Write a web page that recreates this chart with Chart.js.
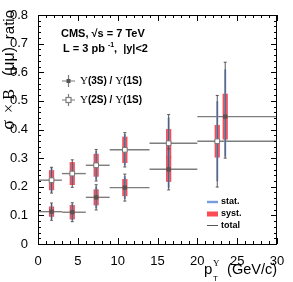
<!DOCTYPE html>
<html>
<head>
<meta charset="utf-8">
<script src="https://cdn.jsdelivr.net/npm/chart.js@4.4.0/dist/chart.umd.min.js"></script>
<style>
  html, body { margin: 0; padding: 0; background: #fff; }
</style>
</head>
<body>
<canvas id="chart" width="293" height="282"></canvas>
<script>
// Intervalos de pT (GeV/c)
const binLo = [0, 3, 6, 9, 14, 20];
const binHi = [3, 6, 9, 14, 20, 30];

// Y(3S)/Y(1S)
const x3S = [1.7, 4.3, 7.3, 10.9, 16.4, 23.5];
const r3S = [0.113, 0.111, 0.163, 0.197, 0.261, 0.445];
const statLo3S = [0.025, 0.028, 0.038, 0.040, 0.065, 0.140];
const statHi3S = [0.025, 0.028, 0.038, 0.040, 0.065, 0.165];
const sist3S = [0.018, 0.025, 0.028, 0.030, 0.044, 0.080];
const totLo3S = [0.030, 0.033, 0.044, 0.047, 0.072, 0.145];
const totHi3S = [0.030, 0.033, 0.044, 0.047, 0.072, 0.190];

// Y(2S)/Y(1S)
const x2S = [1.7, 4.3, 7.3, 10.9, 16.4, 22.5];
const r2S = [0.223, 0.246, 0.275, 0.329, 0.352, 0.359];
const stat2S = [0.042, 0.035, 0.050, 0.055, 0.090, 0.140];
const sist2S = [0.035, 0.040, 0.040, 0.046, 0.050, 0.057];
const tot2S = [0.045, 0.048, 0.055, 0.060, 0.100, 0.160];

const AZUL = 'rgb(120,155,220)';
const ROJO = 'rgba(250,30,40,0.8)';
const GRIS = 'rgb(85,85,85)';

// Barras horizontales de los intervalos
function dibujarIntervalos(ctx, xs, ys, ys_val) {
    ctx.strokeStyle = 'rgb(125,125,125)';
    ctx.lineWidth = 1.4;
    for (let i = 0; i < ys_val.length; i++) {
        const y = ys.getPixelForValue(ys_val[i]);
        ctx.beginPath();
        ctx.moveTo(xs.getPixelForValue(binLo[i]), y);
        ctx.lineTo(xs.getPixelForValue(binHi[i]), y);
        ctx.stroke();
    }
}

// Barras verticales: syst. (rojo), stat. (azul), total (gris)
function dibujarErrores(ctx, xs, ys, xv, rv, sLo, sHi, sist, tLo, tHi) {
    for (let i = 0; i < xv.length; i++) {
        const x = xs.getPixelForValue(xv[i]);
        // sistematico
        const yA = ys.getPixelForValue(rv[i] + sist[i]);
        const yB = ys.getPixelForValue(rv[i] - sist[i]);
        ctx.fillStyle = ROJO;
        ctx.fillRect(x - 2.6, yA, 5.2, yB - yA);
        // estadistico
        ctx.strokeStyle = AZUL;
        ctx.lineWidth = 2;
        ctx.beginPath();
        ctx.moveTo(x, ys.getPixelForValue(rv[i] + sHi[i]));
        ctx.lineTo(x, ys.getPixelForValue(rv[i] - sLo[i]));
        ctx.stroke();
        // total
        const t1 = ys.getPixelForValue(rv[i] + tHi[i]);
        const t2 = ys.getPixelForValue(rv[i] - tLo[i]);
        ctx.strokeStyle = GRIS;
        ctx.lineWidth = 1;
        ctx.beginPath();
        ctx.moveTo(x, t1); ctx.lineTo(x, t2);
        ctx.moveTo(x - 1.5, t1); ctx.lineTo(x + 1.5, t1);
        ctx.moveTo(x - 1.5, t2); ctx.lineTo(x + 1.5, t2);
        ctx.stroke();
    }
}

const barras = {
    id: 'barras',
    beforeDatasetsDraw(chart) {
        const ctx = chart.ctx, xs = chart.scales.x, ys = chart.scales.y;
        ctx.save();
        dibujarIntervalos(ctx, xs, ys, r2S);
        dibujarIntervalos(ctx, xs, ys, r3S);
        dibujarErrores(ctx, xs, ys, x2S, r2S, stat2S, stat2S, sist2S, tot2S, tot2S);
        dibujarErrores(ctx, xs, ys, x3S, r3S, statLo3S, statHi3S, sist3S, totLo3S, totHi3S);
        ctx.restore();
    }
};

// Marco, marcas interiores y textos (estilo ROOT)
const marco = {
    id: 'marco',
    afterDraw(chart) {
        const ctx = chart.ctx, a = chart.chartArea;
        const xs = chart.scales.x, ys = chart.scales.y;
        ctx.save();
        ctx.strokeStyle = '#000';
        ctx.lineWidth = 1;
        ctx.strokeRect(a.left + 0.5, a.top + 0.5, a.right - a.left - 1, a.bottom - a.top);
        ctx.beginPath();
        for (let v = 0; v <= 30; v += 1) {
            const x = Math.round(xs.getPixelForValue(v)) + 0.5;
            const l = v % 5 === 0 ? 6 : 3;
            ctx.moveTo(x, a.bottom); ctx.lineTo(x, a.bottom - l);
            ctx.moveTo(x, a.top); ctx.lineTo(x, a.top + l);
        }
        for (let k = 0; k <= 40; k++) {
            const y = Math.round(ys.getPixelForValue(k * 0.02)) + 0.5;
            const l = k % 5 === 0 ? 6 : 3;
            ctx.moveTo(a.left, y); ctx.lineTo(a.left + l, y);
            ctx.moveTo(a.right, y); ctx.lineTo(a.right - l, y);
        }
        ctx.stroke();

        ctx.fillStyle = '#000';
        // titulo eje Y (trozos colocados a lo largo del eje)
        ctx.save();
        ctx.translate(14, 0);
        ctx.rotate(-Math.PI / 2);
        ctx.textAlign = 'right';
        ctx.textBaseline = 'alphabetic';
        ctx.font = '15px "Liberation Sans"';
        ctx.fillText('ratio', -10, 0);
        ctx.font = '16px "Liberation Sans"';
        ctx.fillText('(μμ)', -47, 0);
        ctx.font = '16px "Liberation Serif"';
        ctx.fillText('B', -89, 0);
        ctx.fillText('×', -104, 0);
        ctx.font = '18px "Liberation Serif"';
        ctx.fillText('σ', -120, 0);
        ctx.restore();

        // titulo eje X
        ctx.textAlign = 'right';
        ctx.textBaseline = 'alphabetic';
        ctx.font = '14.5px "Liberation Sans"';
        ctx.fillText('(GeV/c)', 277, 274);
        ctx.textAlign = 'left';
        ctx.font = '15px "Liberation Sans"';
        ctx.fillText('p', 204, 274);
        ctx.font = '8px "Liberation Sans"';
        ctx.fillText('T', 213, 281);
        ctx.font = '9px "Liberation Serif"';
        ctx.fillText('Υ', 213, 266);

        // cabecera
        ctx.font = 'bold 11px "Liberation Sans"';
        ctx.fillText('CMS, √s = 7 TeV', 61, 37);
        ctx.fillText('L = 3 pb', 63, 52);
        ctx.font = 'bold 7px "Liberation Sans"';
        ctx.fillText('-1', 108, 47);
        ctx.font = 'bold 11px "Liberation Sans"';
        ctx.fillText(',  |y|<2', 114, 52);

        // leyenda series
        const leyenda = [['Υ(3S) / Υ(1S)', 81, true], ['Υ(2S) / Υ(1S)', 100, false]];
        leyenda.forEach(([txt, y, lleno]) => {
            ctx.strokeStyle = 'rgb(125,125,125)';
            ctx.lineWidth = 1.2;
            ctx.beginPath();
            ctx.moveTo(62, y); ctx.lineTo(75, y);
            ctx.moveTo(68.5, y - 6); ctx.lineTo(68.5, y + 6);
            ctx.stroke();
            if (lleno) {
                ctx.fillStyle = GRIS;
                ctx.fillRect(66.5, y - 2, 4, 4);
            } else {
                ctx.fillStyle = '#fff';
                ctx.fillRect(66, y - 2.5, 5, 5);
                ctx.strokeRect(66, y - 2.5, 5, 5);
            }
            ctx.fillStyle = '#000';
            ctx.textBaseline = 'middle';
            let x = 80;
            txt.split(/(Υ)/).filter(s => s).forEach(p => {
                ctx.font = p === 'Υ' ? '11px "Liberation Serif"' : 'bold 10px "Liberation Sans"';
                ctx.fillText(p, x, y);
                x += ctx.measureText(p).width;
            });
        });

        // leyenda errores
        ctx.font = 'bold 9px "Liberation Sans"';
        ctx.textBaseline = 'middle';
        ctx.strokeStyle = AZUL; ctx.lineWidth = 2.4;
        ctx.beginPath(); ctx.moveTo(207, 202); ctx.lineTo(218, 202); ctx.stroke();
        ctx.fillStyle = ROJO; ctx.fillRect(207, 211.5, 11, 5);
        ctx.strokeStyle = GRIS; ctx.lineWidth = 1;
        ctx.beginPath(); ctx.moveTo(207, 225.5); ctx.lineTo(218, 225.5); ctx.stroke();
        ctx.fillStyle = '#000';
        ctx.fillText('stat.', 221, 202);
        ctx.fillText('syst.', 221, 214);
        ctx.fillText('total', 221, 226);
        ctx.restore();
    }
};

new Chart(document.getElementById('chart'), {
    type: 'scatter',
    data: {
        datasets: [
            {
                label: 'Y(2S)/Y(1S)',
                data: x2S.map((x, i) => ({ x: x, y: r2S[i] })),
                pointStyle: 'rect',
                pointRadius: 3.3,
                backgroundColor: '#fff',
                borderColor: 'rgb(120,120,120)',
                borderWidth: 1
            },
            {
                label: 'Y(3S)/Y(1S)',
                data: x3S.map((x, i) => ({ x: x, y: r3S[i] })),
                pointStyle: 'rect',
                pointRadius: 3,
                backgroundColor: GRIS,
                borderColor: GRIS,
                borderWidth: 0
            }
        ]
    },
    options: {
        responsive: false,
        animation: false,
        layout: { padding: { top: 15, right: 16, left: 0, bottom: 0 } },
        plugins: { legend: { display: false }, tooltip: { enabled: false } },
        scales: {
            x: {
                type: 'linear', min: 0, max: 30,
                ticks: { stepSize: 5, color: '#000', padding: 2, maxRotation: 0,
                         font: { family: 'Liberation Sans', size: 13 } },
                grid: { display: false },
                border: { display: false },
                afterFit(s) { s.height = 38; }
            },
            y: {
                type: 'linear', min: 0, max: 0.8,
                ticks: { stepSize: 0.1, color: '#000', padding: 2,
                         font: { family: 'Liberation Sans', size: 13 } },
                grid: { display: false },
                border: { display: false },
                afterFit(s) { s.width = 38; }
            }
        }
    },
    plugins: [barras, marco]
});
</script>
</body>
</html>
